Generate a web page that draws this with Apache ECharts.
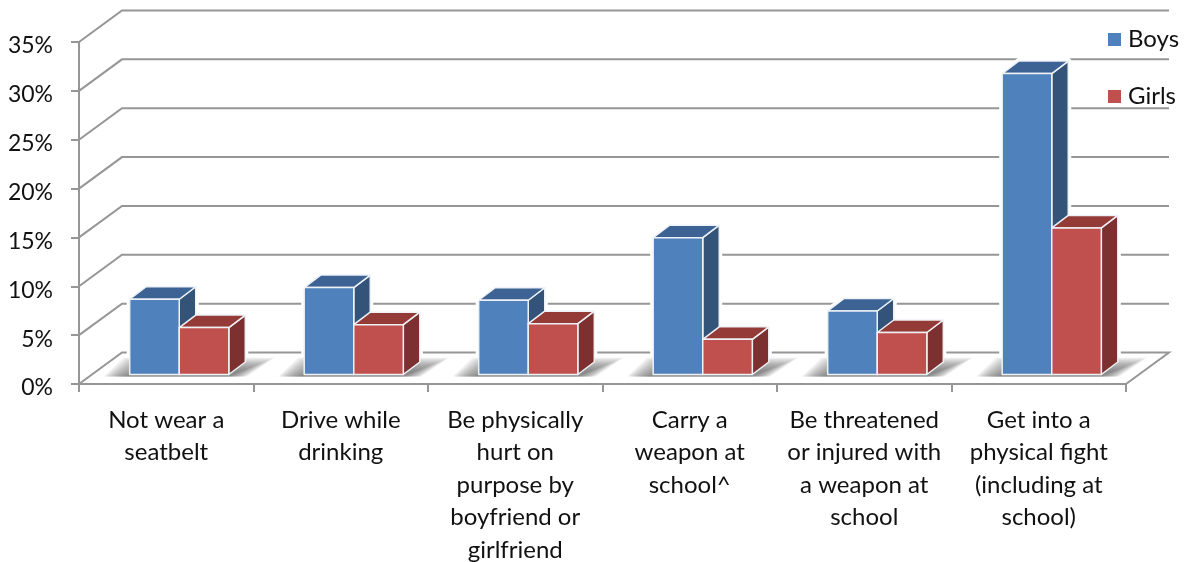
<!DOCTYPE html>
<html><head><meta charset="utf-8">
<style>html,body{margin:0;padding:0;background:#fff}#c{width:1185px;height:562px}</style>
<script src="https://cdn.jsdelivr.net/npm/echarts@6/dist/echarts.min.js"></script>
</head><body><div id="c"></div>
<script>
const categories = ["Not wear a\nseatbelt","Drive while\ndrinking","Be physically\nhurt on\npurpose by\nboyfriend or\ngirlfriend","Carry a\nweapon at\nschool^","Be threatened\nor injured with\na weapon at\nschool","Get into a\nphysical fight\n(including at\nschool)"];
const boys  = [7.7, 8.9, 7.6, 14.0, 6.5, 30.8];
const girls = [4.8, 5.1, 5.2, 3.6, 4.3, 15.0];
const yTicks = [0,5,10,15,20,25,30,35];

const FONT = 'Lato';
const TXT = '#111111', GRID = '#969696';
const WALL_DX = 43, WALL_DY = -31.5;
const BAR_DX = 13, BAR_DY = -9.5;
const SIDE_DX = 16.5, SIDE_DY = -12.5;
const BAR_FRAC = 0.284;

function poly(points, fill){
  return {type:'polygon', shape:{points}, style:{fill, stroke:'#eef2f7', lineWidth:1.5, lineJoin:'round'}};
}
function barBox(api, side){
  const i = api.value(0), v = api.value(1);
  const top = api.coord([i, v]), base = api.coord([i, 0]);
  const w = api.size([1,0])[0] * BAR_FRAC;
  const cx = top[0] + BAR_DX;
  const x0 = side < 0 ? cx - w : cx;
  return {x0, x1:x0+w, yT:top[1]+BAR_DY, yB:base[1]+BAR_DY};
}
function barRender(colors, side){
  return function(params, api){
    const {x0,x1,yT,yB} = barBox(api, side);
    const dx = SIDE_DX, dy = SIDE_DY;
    return {type:'group', children:[
      poly([[x1,yT],[x1+dx,yT+dy],[x1+dx,yB+dy],[x1,yB]], colors[2]),
      poly([[x0,yT],[x0+dx,yT+dy],[x1+dx,yT+dy],[x1,yT]], colors[1]),
      poly([[x0,yT],[x1,yT],[x1,yB],[x0,yB]], colors[0])
    ]};
  };
}
function haloRender(side){
  return function(params, api){
    const {x0,x1,yT,yB} = barBox(api, side);
    const dx = SIDE_DX, dy = SIDE_DY;
    return {type:'polygon', shape:{points:[[x0,yT],[x0+dx,yT+dy],[x1+dx,yT+dy],[x1+dx,yB+dy],[x1,yB],[x0,yB]]},
      style:{fill:'#fff', stroke:'#fff', lineWidth:6, lineJoin:'round'}};
  };
}
function wallRender(params, api){
  const t = api.value(1), cs = params.coordSys;
  const y = api.coord([0,t])[1], x = cs.x, xr = cs.x + cs.width;
  const pts = [[x,y],[x+WALL_DX,y+WALL_DY],[xr+WALL_DX,y+WALL_DY]];
  if (t === 0) pts.push([xr,y]);
  return {type:'polyline', shape:{points:pts}, style:{fill:null, stroke:GRID, lineWidth:2}};
}
function shadowRender(params, api){
  const i = api.value(0);
  const base = api.coord([i,0]);
  const w = api.size([1,0])[0] * BAR_FRAC;
  const L = base[0] + BAR_DX - w, R = base[0] + BAR_DX + w;
  const yB = base[1] + BAR_DY + 2;
  const children = [];
  const LAYERS = 16;
  for (let k = 0; k < LAYERS; k++){
    const t = k * 1.3;
    const top = yB - 19 + t * 0.7, bot = yB;
    const x0 = L - 26 + t * 1.1, x1 = R + 46 - t * 1.7;
    children.push({type:'polygon', shape:{points:[[x0,bot],[L-6+t,top],[x1,top],[R+18-t,bot]]},
      style:{fill:'rgba(100,100,100,0.08)'}});
  }
  return {type:'group', children};
}
const chart = echarts.init(document.getElementById('c'), null, {renderer:'canvas'});
chart.setOption({
  animation:false,
  backgroundColor:'#fff',
  textStyle:{fontFamily:FONT},
  grid:{left:79, right:59, top:42, bottom:178, containLabel:false, outerBoundsMode:'none'},
  legend:{
    show:true, orient:'vertical', left:1103, top:22.5, itemWidth:13, itemHeight:13, itemGap:33,
    itemStyle:{borderWidth:0},
    textStyle:{fontFamily:FONT, fontSize:24, color:TXT, padding:[0,0,0,2]},
    data:[{name:'Boys', icon:'rect'},{name:'Girls', icon:'rect'}]
  },
  xAxis:{type:'category', data:categories,
    axisLine:{lineStyle:{color:GRID,width:2}},
    axisTick:{show:true,length:8,lineStyle:{color:GRID,width:2}},
    axisLabel:{interval:0, color:TXT, fontFamily:FONT, fontSize:24, lineHeight:32.5, margin:20}},
  yAxis:{type:'value', min:0, max:35, interval:5,
    axisLine:{show:true,lineStyle:{color:GRID,width:2}},
    axisTick:{show:true,length:8,lineStyle:{color:GRID,width:2}},
    splitLine:{show:false},
    axisLabel:{formatter:'{value}%', color:TXT, fontFamily:FONT, fontSize:23, margin:26, verticalAlign:'top', lineHeight:8}},
  series:[
    {type:'custom', name:'walls', silent:true, z:1, data:yTicks.map(t=>[0,t]), encode:{x:0,y:1}, renderItem:wallRender, clip:false},
    {type:'custom', name:'haloBoys', silent:true, z:1.5, data:boys.map((v,i)=>[i,v]), encode:{x:0,y:1}, renderItem:haloRender(-1), clip:false},
    {type:'custom', name:'haloGirls', silent:true, z:1.5, data:girls.map((v,i)=>[i,v]), encode:{x:0,y:1}, renderItem:haloRender(1), clip:false},
    {type:'custom', name:'floor', silent:true, z:2, data:categories.map((c,i)=>[i,0]), encode:{x:0,y:1}, renderItem:shadowRender, clip:false},
    {type:'custom', name:'Boys', z:3, itemStyle:{color:'#4F81BD'}, data:boys.map((v,i)=>[i,v]), encode:{x:0,y:1}, renderItem:barRender(['#4F81BD','#3C6394','#335379'],-1), clip:false},
    {type:'custom', name:'Girls', z:4, itemStyle:{color:'#C0504D'}, data:girls.map((v,i)=>[i,v]), encode:{x:0,y:1}, renderItem:barRender(['#C0504D','#943A37','#7C3130'],1), clip:false}
  ]
});
</script></body></html>
